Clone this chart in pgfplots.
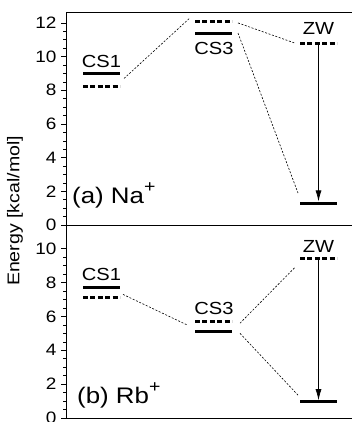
\documentclass[border=0pt]{standalone}
\usepackage{fontspec}
\setmainfont{Liberation Sans}[FakeStretch=1.15]
\usepackage{pgfplots}
\pgfplotsset{compat=1.18}
\usetikzlibrary{arrows.meta}
\newcommand{\ionsup}[1]{\raisebox{0.5em}{\fontsize{17}{17}\selectfont #1}}
\tikzset{
  lab/.style={font=\fontsize{17.5}{19}\selectfont, anchor=base, inner sep=0pt},
  plab/.style={anchor=base west, inner sep=0pt, font=\fontsize{22.5}{24}\selectfont},
}
\pgfplotsset{
  lvl/.style={line width=3pt, black, no marks},
  lvlsolid/.style={lvl},
  lvldash/.style={lvl, dash pattern=on 5pt off 2.4pt},
  conn/.style={line width=0.6pt, black, no marks, dash pattern=on 2pt off 1.6pt},
  arr/.style={line width=0.7pt, black, no marks, -{Latex[length=11pt,width=6pt]}},
  panel/.style={
    scale only axis, anchor=south west, width=286pt,
    xmin=0, xmax=286, clip=false,
    axis x line=none, axis y line*=left,
    tick align=outside, major tick length=5pt, minor tick length=3pt,
    minor y tick num=3,
    tick style={black, line width=0.6pt},
    axis line style={line width=0.8pt},
    /pgf/number format/assume math mode=true,
    yticklabel style={font=\fontsize{16.5}{18}\selectfont, xshift=-1pt},
  },
}
\begin{document}
\begin{tikzpicture}
\useasboundingbox (0,0) rectangle (352pt,422pt);
% top panel (a)
\begin{axis}[panel, at={(66pt,197pt)}, height=213pt, ymin=0, ymax=12.65, ytick={0,2,...,12}]
\addplot[lvlsolid] coordinates {(17,9.0) (54,9.0)};
\addplot[lvldash] coordinates {(17,8.2) (54,8.2)};
\addplot[lvldash] coordinates {(129,12.1) (166,12.1)};
\addplot[lvlsolid] coordinates {(129,11.4) (166,11.4)};
\addplot[lvldash] coordinates {(234,10.75) (271,10.75)};
\addplot[lvlsolid] coordinates {(234,1.3) (271,1.3)};
\addplot[conn] coordinates {(58,8.7) (124,12.3)};
\addplot[conn] coordinates {(172,12.0) (229,10.8)};
\addplot[conn] coordinates {(172,11.4) (232,1.9)};
\addplot[arr] coordinates {(252.5,10.75) (252.5,1.4)};
\node[lab] at (axis cs:35.5,9.35) {CS1};
\node[lab] at (axis cs:148,10.1) {CS3};
\node[lab] at (axis cs:252.5,11.29) {ZW};
\node[plab] at (axis cs:6,1.25) {(a) Na\ionsup{+}};
\draw[line width=0.8pt] (rel axis cs:0,1) -- (rel axis cs:1,1);
\draw[line width=0.8pt] (rel axis cs:0,0) -- (rel axis cs:1,0);
\end{axis}
% bottom panel (b)
\begin{axis}[panel, at={(66pt,4pt)}, height=193pt, ymin=0, ymax=11.4, ytick={0,2,...,10}]
\addplot[lvlsolid] coordinates {(17,7.7) (54,7.7)};
\addplot[lvldash] coordinates {(17,7.1) (54,7.1)};
\addplot[lvldash] coordinates {(129,5.7) (166,5.7)};
\addplot[lvlsolid] coordinates {(129,5.1) (166,5.1)};
\addplot[lvldash] coordinates {(234,9.4) (271,9.4)};
\addplot[lvlsolid] coordinates {(234,0.95) (271,0.95)};
\addplot[conn] coordinates {(57,7.3) (121,5.5)};
\addplot[conn] coordinates {(174,5.6) (229,8.9)};
\addplot[conn] coordinates {(174,5.0) (232,1.35)};
\addplot[arr] coordinates {(252.5,9.4) (252.5,1.05)};
\node[lab] at (axis cs:35.5,8.1) {CS1};
\node[lab] at (axis cs:148,6.1) {CS3};
\node[lab] at (axis cs:252.5,9.76) {ZW};
\node[plab] at (axis cs:11,0.83) {(b) Rb\ionsup{+}};
\draw[line width=0.8pt] (rel axis cs:0,0) -- (rel axis cs:1,0);
\end{axis}
\node[rotate=90, font=\fontsize{17}{19}\selectfont, inner sep=0pt] at (15pt,211pt) {Energy [kcal/mol]};
\end{tikzpicture}
\end{document}
